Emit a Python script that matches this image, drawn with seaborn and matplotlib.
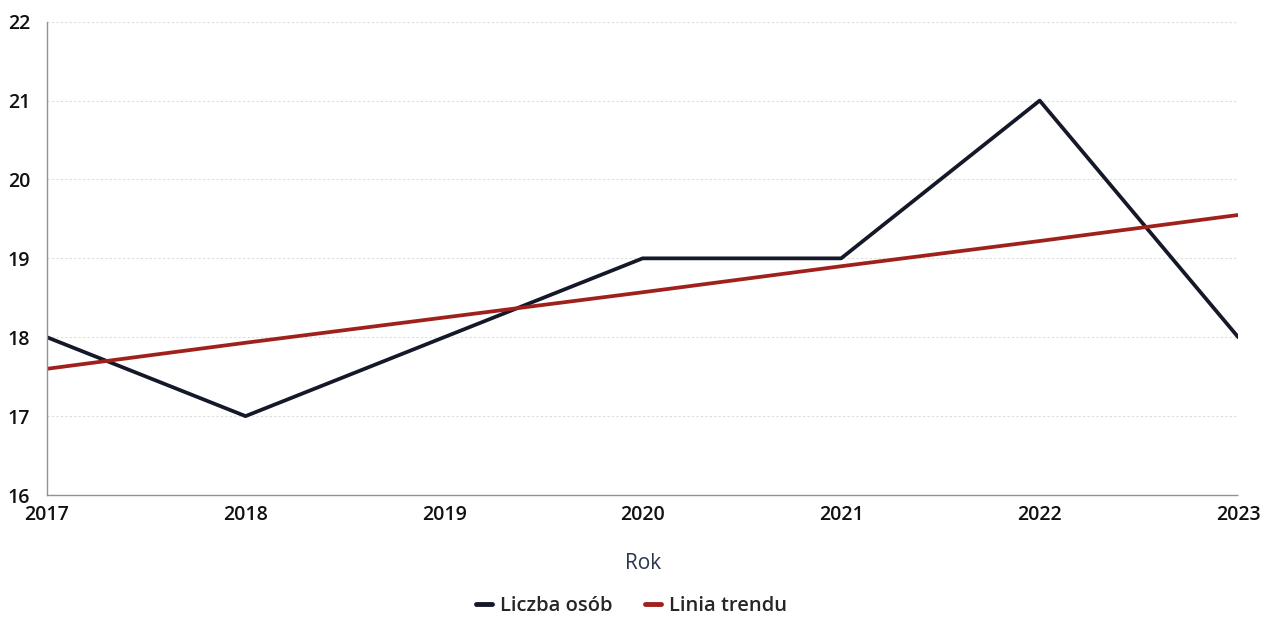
import pandas as pd
import matplotlib
matplotlib.use('Agg')
import matplotlib.pyplot as plt
import seaborn as sns
from matplotlib.lines import Line2D

# Values
years = [2017, 2018, 2019, 2020, 2021, 2022, 2023]
liczba_osob = [18, 17, 18, 19, 19, 21, 18]
linia_trendu = [17.6, 17.93, 18.25, 18.57, 18.9, 19.22, 19.55]

df = pd.DataFrame({'Rok': years * 2,
                   'Wartość': liczba_osob + linia_trendu,
                   'Seria': ['Liczba osób'] * 7 + ['Linia trendu'] * 7})

sns.set_theme(style='white')
plt.rcParams['font.family'] = ['Open Sans', 'DejaVu Sans']

fig = plt.figure(figsize=(12.7, 6.2), dpi=100)
ax = fig.add_axes([0.037, 0.2016, 0.938, 0.7634])

sns.lineplot(data=df, x='Rok', y='Wartość', hue='Seria',
             palette={'Liczba osób': '#141828', 'Linia trendu': '#a0211c'},
             linewidth=2.7, ax=ax, legend=False)

ax.set_xlim(2017, 2023)
ax.set_ylim(16, 22)
ax.set_xticks(years)
ax.set_yticks(range(16, 23))
ax.tick_params(axis='both', length=0, labelsize=14, colors='#111111')
ax.tick_params(axis='x', pad=7)
ax.tick_params(axis='y', pad=12)
for lab in ax.get_xticklabels() + ax.get_yticklabels():
    lab.set_fontweight('semibold')

ax.grid(axis='y', color='#dddddd', linestyle=(0, (2, 2)), linewidth=0.8)
for side in ['top', 'right']:
    ax.spines[side].set_visible(False)
for side in ['left', 'bottom']:
    ax.spines[side].set_color('#8a93a3')
    ax.spines[side].set_linestyle((0, (1, 1)))
    ax.spines[side].set_linewidth(1.0)

ax.set_xlabel('Rok', fontsize=15, color='#2b3550', labelpad=20)
ax.set_ylabel('')

handles = [Line2D([], [], color='#141828', linewidth=3.5),
           Line2D([], [], color='#a0211c', linewidth=3.5)]
fig.legend(handles, ['Liczba osób', 'Linia trendu'], loc='center',
           bbox_to_anchor=(0.497, 0.022), ncol=2, frameon=False,
           handlelength=0.8, handletextpad=0.4, columnspacing=1.6,
           prop={'size': 14.5, 'weight': 'semibold'})

fig.savefig('out.png', dpi=100)
